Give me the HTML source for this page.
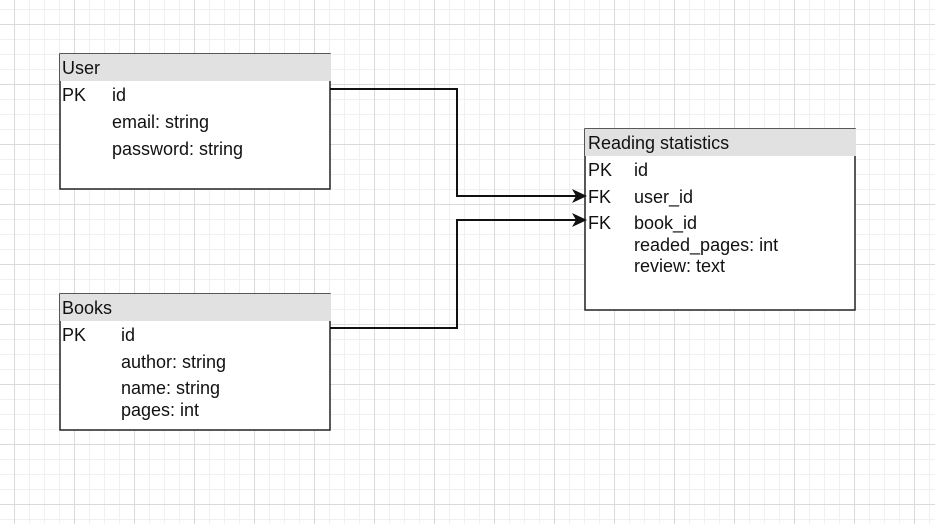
<!DOCTYPE html>
<html><head><meta charset="utf-8"><style>
html,body{margin:0;padding:0;}
body{width:935px;height:524px;overflow:hidden;background:#fff;position:relative;font-family:"Liberation Sans",Arial,sans-serif;}
svg{position:absolute;left:0;top:0;}
</style></head><body>
<svg width="935" height="524" xmlns="http://www.w3.org/2000/svg">
<defs>
<pattern id="minor" x="14" y="9" width="15" height="15" patternUnits="userSpaceOnUse">
<path d="M0 0.5H15M0.5 0V15" stroke="#f0f0f0" stroke-width="1" fill="none"/>
</pattern>
<pattern id="major" x="14" y="24" width="60" height="60" patternUnits="userSpaceOnUse">
<path d="M0 0.5H60M0.5 0V60" stroke="#dadada" stroke-width="1" fill="none"/>
</pattern>
</defs>
<rect width="935" height="524" fill="url(#minor)"/>
<rect width="935" height="524" fill="url(#major)"/>

<g font-size="18" fill="#111">
<!-- User -->
<rect x="60" y="54" width="270" height="135" fill="#fff" stroke="#222" stroke-width="1.5"/>
<rect x="60" y="54" width="271" height="27" fill="#e1e1e1"/>
<text x="62" y="74">User</text>
<text x="62" y="101">PK</text><text x="112" y="101">id</text>
<text x="112" y="128">email: string</text>
<text x="112" y="155">password: string</text>

<!-- Books -->
<rect x="60" y="294" width="270" height="136" fill="#fff" stroke="#222" stroke-width="1.5"/>
<rect x="60" y="294" width="271" height="27" fill="#e1e1e1"/>
<text x="62" y="314">Books</text>
<text x="62" y="341">PK</text><text x="121" y="341">id</text>
<text x="121" y="368">author: string</text>
<text x="121" y="394">name: string</text>
<text x="121" y="416">pages: int</text>

<!-- Reading statistics -->
<rect x="585" y="129" width="270" height="181" fill="#fff" stroke="#222" stroke-width="1.5"/>
<rect x="585" y="129" width="271" height="27" fill="#e1e1e1"/>
<text x="588" y="149">Reading statistics</text>
<text x="588" y="176">PK</text><text x="634" y="176">id</text>
<text x="588" y="203">FK</text><text x="634" y="203">user_id</text>
<text x="588" y="229">FK</text><text x="634" y="229">book_id</text>
<text x="634" y="251">readed_pages: int</text>
<text x="634" y="272">review: text</text>
</g>

<g stroke="#111" stroke-width="2" fill="none">
<path d="M330 89H457V196H578"/>
<path d="M330 328H457V220H578"/>
</g>
<g fill="#111">
<path d="M587 196L572 189L576 196L572 203Z"/>
<path d="M587 220L572 213L576 220L572 227Z"/>
</g>
</svg>
</body></html>
